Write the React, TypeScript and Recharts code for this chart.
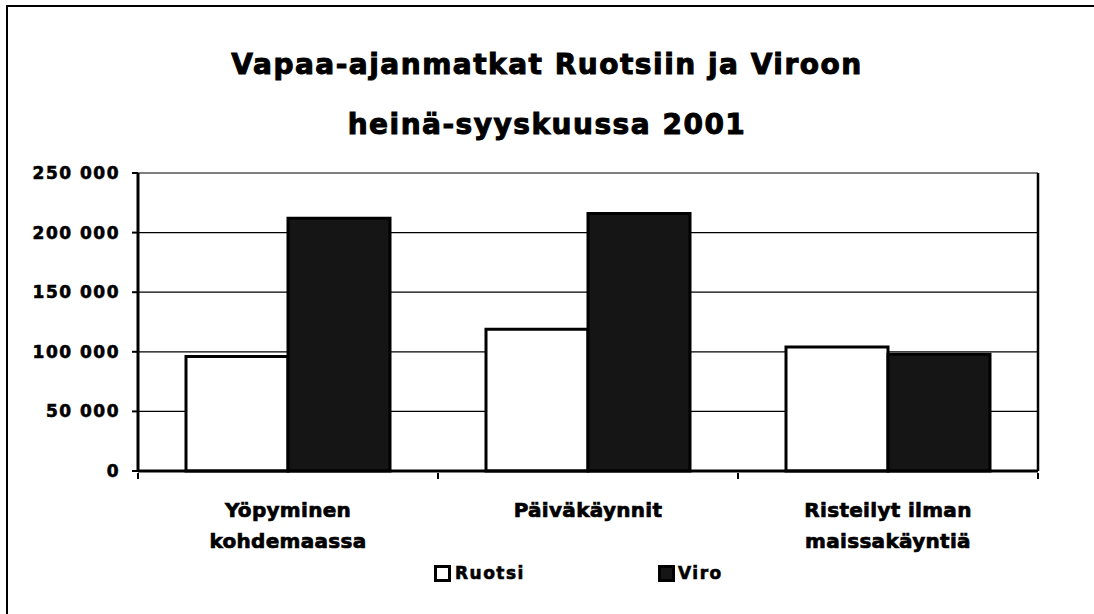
import { BarChart, Bar, XAxis, YAxis, CartesianGrid } from 'recharts';

const categories = ['Yöpyminen\nkohdemaassa', 'Päiväkäynnit', 'Risteilyt ilman\nmaissakäyntiä'];
const ruotsi = [96000, 119000, 104000];
const viro = [212000, 216000, 98000];
const yTicks = [0, 50000, 100000, 150000, 200000, 250000];

const chartData = categories.map((name, i) => ({ name, Ruotsi: ruotsi[i], Viro: viro[i] }));

const HEAVY = '"DejaVu Sans", sans-serif';
const VIRO_FILL = '#151515';

const fmt = (v: number) => String(v).replace(/\B(?=(\d{3})+(?!\d))/g, ' ');

// category label plus Excel-style tick marks at the band edges
const CategoryTick = (props: any) => {
  const { x, y, payload, index, visibleTicksCount } = props;
  const lines = String(payload.value).split('\n');
  const half = payload.offset ?? 0;
  const axisY = y - 8;
  return (
    <g>
      <line x1={x - half} x2={x - half} y1={axisY} y2={axisY + 6} stroke="#000" strokeWidth={2} />
      {index === visibleTicksCount - 1 && (
        <line x1={x + half} x2={x + half} y1={axisY} y2={axisY + 6} stroke="#000" strokeWidth={2} />
      )}
      <text
        x={x}
        y={axisY}
        textAnchor="middle"
        fontFamily={HEAVY}
        fontWeight="bold"
        fontSize={20}
        letterSpacing={0.3}
        fill="#000"
        stroke="#000"
        strokeWidth={0.7}
      >
        {lines.map((line, i) => (
          <tspan key={i} x={x} y={axisY + 44 + i * 31}>
            {line}
          </tspan>
        ))}
      </text>
    </g>
  );
};

export default function App() {
  return (
    <div style={{ position: 'absolute', left: 0, top: 0, width: 1094, height: 614, background: '#fff', overflow: 'hidden' }}>
      {/* outer chart frame, cut by the scan on the right and bottom */}
      <div
        style={{
          position: 'absolute',
          left: 6,
          top: 5,
          width: 1200,
          height: 700,
          borderLeft: '2px solid #000',
          borderTop: '2px solid #000',
        }}
      />
      <div
        style={{
          position: 'absolute',
          left: 0,
          top: 45,
          width: 1094,
          textAlign: 'center',
          fontFamily: HEAVY,
          fontWeight: 'bold',
          fontSize: 28,
          letterSpacing: 1.5,
          WebkitTextStroke: '1px #000',
          color: '#000',
        }}
      >
        <div style={{ lineHeight: '40px' }}>Vapaa-ajanmatkat Ruotsiin ja Viroon</div>
        <div style={{ lineHeight: '40px', marginTop: 20 }}>heinä-syyskuussa 2001</div>
      </div>
      <div style={{ position: 'absolute', left: 0, top: 0 }}>
        <BarChart
          width={1094}
          height={614}
          data={chartData}
          margin={{ top: 173, right: 56, bottom: 0, left: 28 }}
          barCategoryGap="16%"
          barGap={0}
        >
          <CartesianGrid vertical={false} stroke="#000" strokeWidth={1.2} />
          <CartesianGrid
            horizontal={false}
            stroke="#000"
            strokeWidth={2.5}
            verticalCoordinatesGenerator={({ offset }: any) => [offset.left + offset.width]}
          />
          <XAxis
            dataKey="name"
            height={143}
            tickLine={false}
            tickSize={8}
            axisLine={{ stroke: '#000', strokeWidth: 3 }}
            tick={<CategoryTick />}
            interval={0}
          />
          <YAxis
            domain={[0, 250000]}
            ticks={yTicks}
            width={110}
            tickFormatter={fmt}
            tickSize={6}
            tickMargin={12}
            tickLine={{ stroke: '#000', strokeWidth: 2 }}
            axisLine={{ stroke: '#000', strokeWidth: 3 }}
            tick={{ fill: '#000', stroke: '#000', strokeWidth: 0.6, fontFamily: HEAVY, fontWeight: 'bold', fontSize: 17, letterSpacing: 1.5 }}
          />
          <Bar dataKey="Ruotsi" fill="#fff" stroke="#000" strokeWidth={3} isAnimationActive={false} />
          <Bar dataKey="Viro" fill={VIRO_FILL} stroke="#000" strokeWidth={3} isAnimationActive={false} />
        </BarChart>
      </div>
      {/* legend */}
      <div
        style={{
          position: 'absolute',
          top: 563,
          left: 0,
          fontFamily: HEAVY,
          fontWeight: 'bold',
          fontSize: 17,
          letterSpacing: 1.5,
          WebkitTextStroke: '0.6px #000',
          color: '#000',
        }}
      >
        <div style={{ position: 'absolute', left: 434, top: 2, width: 11, height: 11, border: '3px solid #000', background: '#fff' }} />
        <div style={{ position: 'absolute', left: 455, top: 0, whiteSpace: 'nowrap' }}>Ruotsi</div>
        <div style={{ position: 'absolute', left: 658, top: 2, width: 11, height: 11, border: '3px solid #000', background: VIRO_FILL }} />
        <div style={{ position: 'absolute', left: 678, top: 0, whiteSpace: 'nowrap' }}>Viro</div>
      </div>
    </div>
  );
}
